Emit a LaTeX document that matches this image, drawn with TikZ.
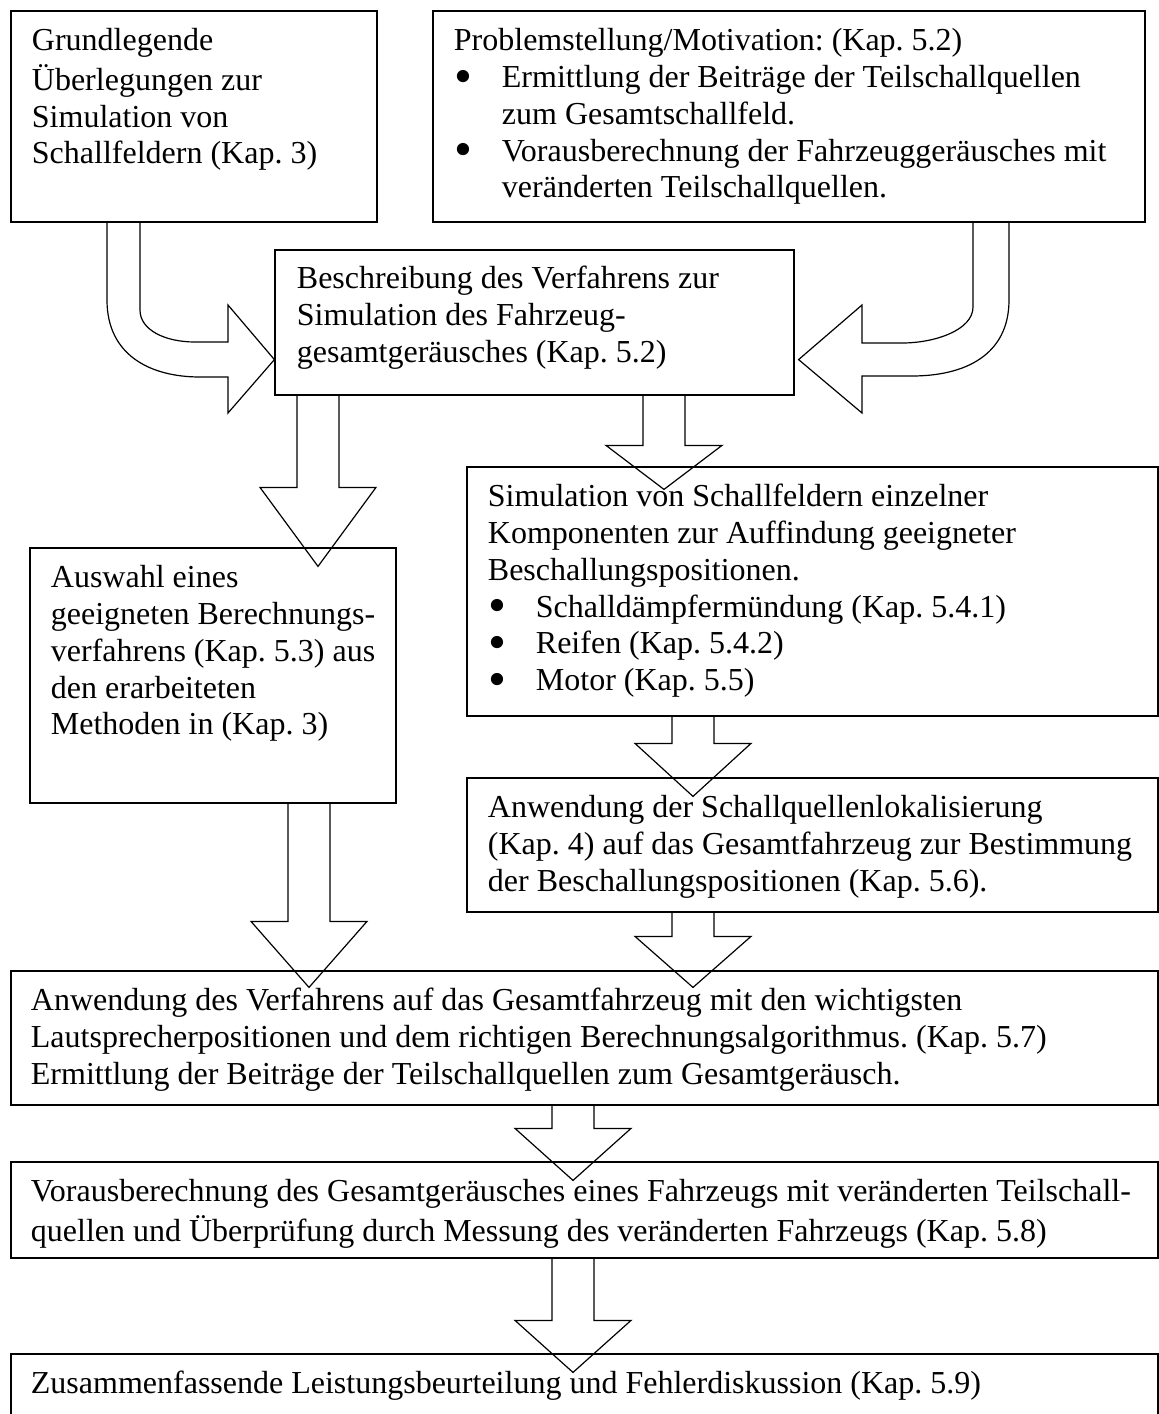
\documentclass[tikz,border=0pt]{standalone}
\usepackage{fontspec}
\usepackage{graphicx}
\setmainfont{Liberation Serif}
\usetikzlibrary{calc,fit}
\frenchspacing

\newcommand{\itembul}{\makebox[18pt][l]{\hspace{0.3pt}\raisebox{-2.2pt}{\scalebox{1.6}{\textbullet}}}}
% hollow block arrow: source, target, column, head length, tip depth
\newcommand{\blockdown}[5]{%
  \draw[blk] ($(#1.south -| #3)+(-21,0)$)
    -- ($(#2.north -| #3)+(-21,#5-#4)$) -- ($(#2.north -| #3)+(-58,#5-#4)$)
    -- ($(#2.north -| #3)+(0,#5)$)
    -- ($(#2.north -| #3)+(58,#5-#4)$) -- ($(#2.north -| #3)+(21,#5-#4)$)
    -- ($(#1.south -| #3)+(21,0)$);}

\begin{document}
\begin{tikzpicture}[x=0.375pt,y=-0.375pt,
  box/.style={draw,line width=0.45pt,inner sep=0pt},
  txt/.style={anchor=north west,inner sep=0pt,align=left,font=\fontsize{12pt}{13.8pt}\selectfont},
  blk/.style={draw,line width=0.45pt,line join=miter}]
\path[fill=white,use as bounding box] (0,0) rectangle (1159,1414);
\clip (0,0) rectangle (1159,1414);

% boxes
\node[box,fit={(11,11) (377,222)}] (grund) {};
\node[box,fit={(433,11) (1145,222)}] (problem) {};
\node[box,fit={(275,250) (794,395)}] (beschr) {};
\node[box,fit={(30,548) (396,803)}] (auswahl) {};
\node[box,fit={(467,467) (1158,716)}] (simul) {};
\node[box,fit={(467,778) (1158,912)}] (lokal) {};
\node[box,fit={(11,971) (1158,1105)}] (verf) {};
\node[box,fit={(11,1162) (1158,1258)}] (voraus) {};
\node[box,fit={(11,1354) (1158,1440)}] (zus) {};

% texts
\node[txt] (grundtxt) at ([shift={(21,14)}]grund.north west)
  {\strut Grundlegende\\Überlegungen zur\\Simulation von\\Schallfeldern (Kap. 3)};
\node[txt] (problemtxt) at ([shift={(21,14)}]problem.north west)
  {\strut Problemstellung/Motivation: (Kap. 5.2)\\
   \itembul Ermittlung der Beiträge der Teilschallquellen\\
   \hspace*{18pt}zum Gesamtschallfeld.\\
   \itembul Vorausberechnung der Fahrzeuggeräusches mit\\
   \hspace*{18pt}veränderten Teilschallquellen.};
\node[txt] (beschrtxt) at ([shift={(22,13)}]beschr.north west)
  {\strut Beschreibung des Verfahrens zur\\Simulation des Fahrzeug-\\gesamtgeräusches (Kap. 5.2)};
\node[txt] (auswahltxt) at ([shift={(21,14)}]auswahl.north west)
  {\strut Auswahl eines\\geeigneten Berechnungs-\\verfahrens (Kap. 5.3) aus\\den erarbeiteten\\Methoden in (Kap. 3)};
\node[txt] (simultxt) at ([shift={(21,14)}]simul.north west)
  {\strut Simulation von Schallfeldern einzelner\\
   Komponenten zur Auffindung geeigneter\\
   Beschallungspositionen.\\
   \itembul Schalldämpfermündung (Kap. 5.4.1)\\
   \itembul Reifen (Kap. 5.4.2)\\
   \itembul Motor (Kap. 5.5)};
\node[txt] (lokaltxt) at ([shift={(21,14)}]lokal.north west)
  {\strut Anwendung der Schallquellenlokalisierung\\
   (Kap. 4) auf das Gesamtfahrzeug zur Bestimmung\\
   der Beschallungspositionen (Kap. 5.6).};
\node[txt] (verftxt) at ([shift={(20,14)}]verf.north west)
  {\strut Anwendung des Verfahrens auf das Gesamtfahrzeug mit den wichtigsten\\
   Lautsprecherpositionen und dem richtigen Berechnungsalgorithmus. (Kap. 5.7)\\
   Ermittlung der Beiträge der Teilschallquellen zum Gesamtgeräusch.};
\node[txt] (vorausstxt) at ([shift={(20,14)}]voraus.north west)
  {\strut Vorausberechnung des Gesamtgeräusches eines Fahrzeugs mit veränderten Teilschall-\\
   quellen und Überprüfung durch Messung des veränderten Fahrzeugs (Kap. 5.8)};
\node[txt] (zustxt) at ([shift={(20,14)}]zus.north west)
  {\strut Zusammenfassende Leistungsbeurteilung und Fehlerdiskussion (Kap. 5.9)};

% arrow columns
\coordinate (colL) at (123.5,0);
\coordinate (colR) at (991,0);
\coordinate (colA) at (318,0);
\coordinate (colB) at (664,0);
\coordinate (colC) at (693,0);
\coordinate (colD) at (309,0);
\coordinate (colE) at (573,0);

% bent arrows into the description box
\draw[blk] ($(grund.south -| colL)+(-16.5,0)$) -- (107,300)
  .. controls (107,355) and (150,377) .. (200,377) -- (228,377) -- (228,413)
  -- ($(beschr.south west)+(0,-36)$) -- (228,305) -- (228,342) -- (195,342)
  .. controls (165,342) and (140,330) .. (140,310) -- ($(grund.south -| colL)+(16.5,0)$);
\draw[blk] ($(problem.south -| colR)+(18,0)$) -- (1009,300)
  .. controls (1009,355) and (965,376) .. (912,376) -- (862,376) -- (862,413)
  -- ($(beschr.south east)+(4,-36)$) -- (862,305) -- (862,343) -- (902,343)
  .. controls (935,343) and (973,330) .. (973,307) -- ($(problem.south -| colR)+(-18,0)$);

% straight block arrows
\blockdown{beschr}{auswahl}{colA}{79}{19}
\blockdown{beschr}{simul}{colB}{44}{23}
\blockdown{simul}{lokal}{colC}{53}{19}
\blockdown{lokal}{verf}{colC}{51}{17}
\blockdown{auswahl}{verf}{colD}{66}{17}
\blockdown{verf}{voraus}{colE}{52}{19}
\blockdown{voraus}{zus}{colE}{52}{19}
\end{tikzpicture}
\end{document}
